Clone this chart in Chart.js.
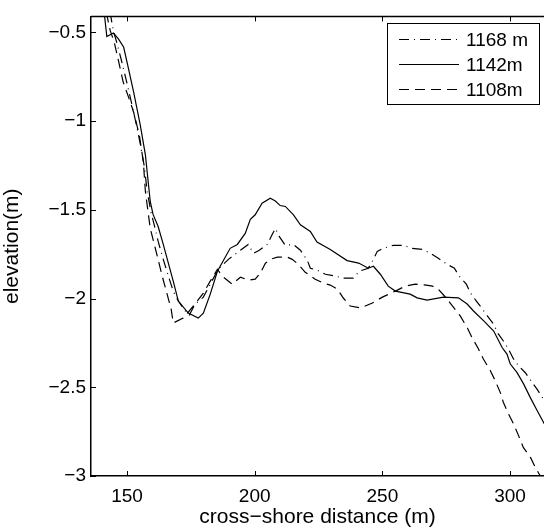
<!DOCTYPE html>
<html>
<head>
<meta charset="utf-8">
<script src="https://cdn.jsdelivr.net/npm/chart.js@4"></script>
<style>
  html, body { margin: 0; padding: 0; background: #fff; }
  canvas { display: block; }
</style>
</head>
<body>
<canvas id="profileChart" width="544" height="530"></canvas>
<script>
// cross-shore profiles
const labels = ['1168 m', '1142m', '1108m'];

const x1168 = [143.4, 144.6, 146.2, 147.8, 149.7, 151.7, 153.6, 155.2, 156.8, 157.9, 159.5, 161.1, 162.2, 164.2, 166.2, 168.1, 170.1, 172.8, 174.4, 176.7, 179.9, 182.6, 185.7, 189.7, 194.4, 197.5, 199.5, 201.8, 204.9, 206.9, 208.1, 209.6, 212.0, 215.1, 217.9, 220.6, 221.8, 224.5, 227.7, 231.6, 234.7, 238.6, 241.0, 244.5, 246.5, 248.0, 250.4, 254.3, 258.2, 261.7, 265.7, 268.8, 271.9, 275.4, 278.2, 280.1, 282.9, 284.5, 286.8, 289.2, 291.1, 293.5, 295.4, 297.4, 299.3, 301.3, 303.3, 306.0, 308.7, 310.7, 312.7, 315.0];
const y1168 = [-0.388, -0.489, -0.567, -0.657, -0.769, -0.893, -1.016, -1.129, -1.257, -1.397, -1.521, -1.610, -1.678, -1.779, -1.874, -1.958, -2.014, -2.070, -2.093, -2.031, -1.992, -1.919, -1.835, -1.779, -1.728, -1.695, -1.745, -1.728, -1.695, -1.638, -1.605, -1.650, -1.700, -1.695, -1.728, -1.784, -1.829, -1.840, -1.863, -1.874, -1.885, -1.885, -1.846, -1.829, -1.779, -1.734, -1.717, -1.700, -1.700, -1.717, -1.723, -1.745, -1.773, -1.807, -1.829, -1.874, -1.919, -1.969, -2.014, -2.059, -2.098, -2.143, -2.199, -2.239, -2.283, -2.339, -2.379, -2.418, -2.474, -2.513, -2.558, -2.609];

const x1142 = [141.0, 142.1, 144.7, 146.7, 148.7, 150.6, 152.6, 155.2, 157.2, 159.1, 160.2, 162.2, 164.2, 168.1, 170.1, 174.0, 177.9, 179.9, 182.6, 185.4, 190.4, 193.2, 196.3, 198.3, 200.2, 202.9, 206.1, 208.1, 210.0, 212.0, 215.2, 217.9, 221.8, 224.4, 229.6, 236.2, 240.7, 244.5, 246.5, 249.2, 252.3, 255.1, 260.9, 263.6, 267.5, 273.9, 279.8, 283.2, 285.7, 289.7, 293.6, 296.9, 298.8, 300.1, 302.7, 305.3, 307.9, 310.6, 313.4, 315.0];
const y1142 = [-0.38, -0.524, -0.504, -0.538, -0.584, -0.706, -0.837, -1.023, -1.19, -1.453, -1.526, -1.594, -1.695, -1.902, -2.014, -2.082, -2.11, -2.082, -1.975, -1.846, -1.717, -1.695, -1.633, -1.554, -1.528, -1.463, -1.435, -1.45, -1.476, -1.481, -1.528, -1.584, -1.622, -1.682, -1.724, -1.786, -1.8, -1.829, -1.818, -1.863, -1.93, -1.958, -1.975, -1.996, -2.009, -1.992, -1.996, -2.031, -2.07, -2.126, -2.183, -2.276, -2.313, -2.369, -2.416, -2.481, -2.557, -2.631, -2.706, -2.79];

const x1108 = [141.9, 143.4, 145.0, 146.6, 148.5, 151.3, 152.8, 154.8, 156.4, 157.2, 159.1, 160.7, 163.8, 165.4, 167.3, 168.1, 172.0, 176.0, 179.9, 182.6, 185.4, 187.3, 191.2, 194.4, 197.5, 200.2, 202.2, 204.2, 206.1, 208.9, 212.8, 214.7, 217.1, 219.8, 223.7, 226.9, 229.6, 232.4, 234.7, 237.4, 241.4, 246.1, 250.0, 255.1, 259.0, 262.9, 267.2, 269.6, 271.9, 274.7, 277.8, 280.5, 283.3, 285.2, 287.6, 289.5, 292.3, 294.2, 296.2, 297.4, 299.3, 301.3, 303.3, 305.2, 308.0, 309.9, 311.9, 313.8];
const y1108 = [-0.388, -0.489, -0.556, -0.657, -0.780, -0.893, -0.960, -1.078, -1.229, -1.397, -1.605, -1.695, -1.874, -1.959, -2.060, -2.138, -2.110, -2.042, -1.969, -1.902, -1.835, -1.874, -1.919, -1.880, -1.896, -1.891, -1.857, -1.801, -1.779, -1.767, -1.767, -1.779, -1.807, -1.852, -1.891, -1.913, -1.924, -1.947, -1.997, -2.042, -2.053, -2.025, -1.992, -1.958, -1.930, -1.919, -1.924, -1.930, -1.947, -1.992, -2.048, -2.098, -2.166, -2.222, -2.283, -2.339, -2.407, -2.463, -2.530, -2.586, -2.648, -2.704, -2.771, -2.839, -2.895, -2.951, -3.001, -3.057];

const xTicks = [150, 200, 250, 300];
const yTicks = [-3, -2.5, -2, -1.5, -1, -0.5];

const FONT = '"Liberation Sans", Arial, Helvetica, sans-serif';

function toPoints(xs, ys) {
    return xs.map((x, i) => ({ x, y: ys[i] }));
}

function minus(v) {
    return String(v).replace('-', '\u2212');
}

// matlab style: ticks pointing inward, top frame line
const frameTicks = {
    id: 'frameTicks',
    afterDatasetsDraw(chart) {
        const { ctx, chartArea: a, scales } = chart;
        ctx.save();
        ctx.strokeStyle = '#000';
        ctx.lineWidth = 1;
        scales.x.ticks.forEach((t) => {
            const px = Math.round(scales.x.getPixelForValue(t.value)) + 0.5;
            ctx.beginPath();
            ctx.moveTo(px, a.bottom);
            ctx.lineTo(px, a.bottom - 5);
            ctx.moveTo(px, a.top);
            ctx.lineTo(px, a.top + 5);
            ctx.stroke();
        });
        scales.y.ticks.forEach((t) => {
            const py = Math.round(scales.y.getPixelForValue(t.value)) + 0.5;
            ctx.beginPath();
            ctx.moveTo(a.left, py);
            ctx.lineTo(a.left + 5, py);
            ctx.stroke();
        });
        ctx.lineWidth = 1.5;
        ctx.beginPath();
        ctx.moveTo(a.left, a.top);
        ctx.lineTo(a.right, a.top);
        ctx.stroke();
        ctx.restore();
    },
};

const boxLegend = {
    id: 'boxLegend',
    afterDraw(chart) {
        const { ctx } = chart;
        const box = { left: 387.5, top: 23.5, width: 152, height: 81 };
        ctx.save();
        ctx.fillStyle = '#fff';
        ctx.fillRect(box.left, box.top, box.width, box.height);
        ctx.strokeStyle = '#000';
        ctx.lineWidth = 1;
        ctx.strokeRect(box.left, box.top, box.width, box.height);
        ctx.font = '19px ' + FONT;
        ctx.textBaseline = 'middle';
        ctx.fillStyle = '#000';
        chart.data.datasets.forEach((ds, i) => {
            const y = 39.5 + i * 25;
            ctx.setLineDash(ds.borderDash || []);
            ctx.lineWidth = ds.borderWidth;
            ctx.beginPath();
            ctx.moveTo(399, y);
            ctx.lineTo(459, y);
            ctx.stroke();
            ctx.setLineDash([]);
            ctx.fillText(ds.label, 466, y + 1);
        });
        ctx.restore();
    },
};

new Chart(document.getElementById('profileChart').getContext('2d'), {
    type: 'line',
    data: {
        datasets: [
            { label: labels[0], data: toPoints(x1168, y1168), borderDash: [10, 5, 1, 5] },
            { label: labels[1], data: toPoints(x1142, y1142), borderDash: [] },
            { label: labels[2], data: toPoints(x1108, y1108), borderDash: [10, 6] },
        ].map((d) => ({
            ...d,
            borderColor: '#000',
            borderWidth: 1.2,
            pointRadius: 0,
            tension: 0,
            fill: false,
        })),
    },
    options: {
        responsive: false,
        devicePixelRatio: 1,
        animation: false,
        layout: { padding: { top: 14, right: 0, left: 0, bottom: 0 } },
        plugins: { legend: { display: false }, tooltip: { enabled: false } },
        scales: {
            x: {
                type: 'linear',
                min: 135.9,
                max: 313.3,
                afterBuildTicks: (s) => { s.ticks = xTicks.map((v) => ({ value: v })); },
                afterFit: (s) => { s.height = 54; },
                grid: { display: false, drawTicks: false },
                border: { display: true, color: '#000', width: 1.5 },
                ticks: { color: '#000', font: { family: FONT, size: 19 }, padding: 9, maxRotation: 0 },
                title: {
                    display: true,
                    text: 'cross\u2212shore distance (m)',
                    color: '#000',
                    font: { family: FONT, size: 21 },
                    padding: { top: 0, bottom: 0 },
                },
            },
            y: {
                type: 'linear',
                min: -3,
                max: -0.41,
                afterBuildTicks: (s) => { s.ticks = yTicks.map((v) => ({ value: v })); },
                afterFit: (s) => { s.width = 91; },
                grid: { display: false, drawTicks: false },
                border: { display: true, color: '#000', width: 1.5 },
                ticks: { color: '#000', font: { family: FONT, size: 19 }, padding: 5, callback: (v) => minus(v) },
                title: {
                    display: true,
                    text: 'elevation(m)',
                    color: '#000',
                    font: { family: FONT, size: 21 },
                    padding: { top: 0, bottom: 0 },
                },
            },
        },
    },
    plugins: [frameTicks, boxLegend],
});
</script>
</body>
</html>
